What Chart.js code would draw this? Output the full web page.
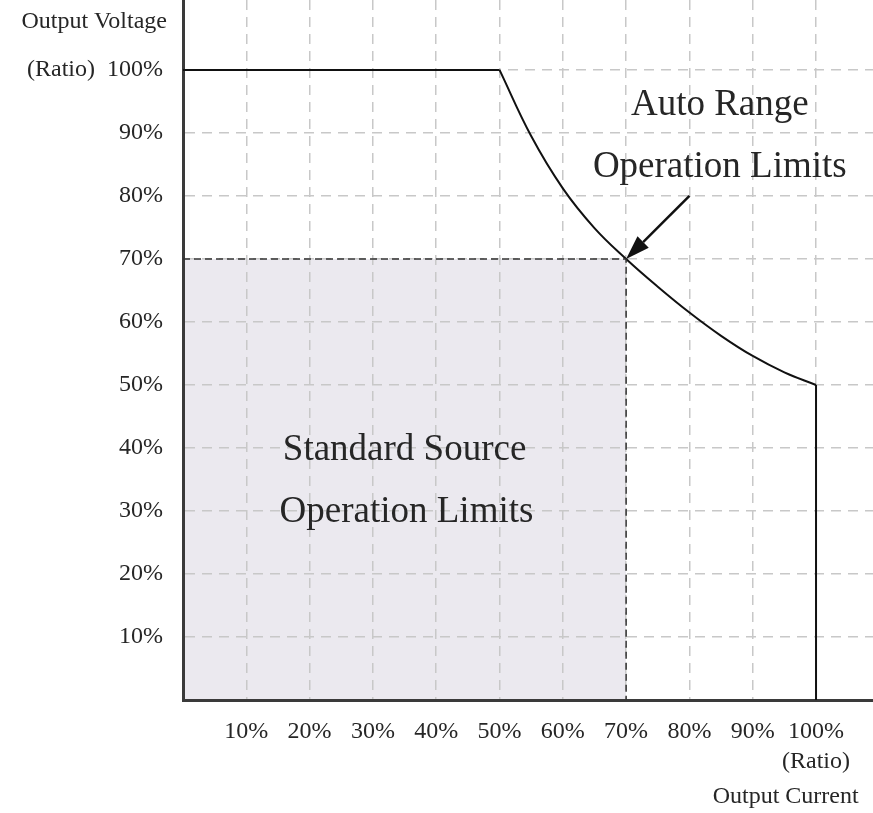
<!DOCTYPE html>
<html>
<head>
<meta charset="utf-8">
<script src="https://cdn.jsdelivr.net/npm/chart.js@4/dist/chart.umd.min.js"></script>
<style>
  html, body { margin: 0; padding: 0; background: #fff; }
  canvas { display: block; }
</style>
</head>
<body>
<canvas id="chart" width="873" height="813"></canvas>
<script>
// ratios in percent
var tickValues = [0, 10, 20, 30, 40, 50, 60, 70, 80, 90, 100];

// auto range limit: flat part, curved part, drop at 100% current
var flatCurrent = [0, 50];
var flatVoltage = [100, 100];
var curveCurrent = [50, 55, 60, 65, 70, 75, 80, 85, 90, 95, 100];
var curveVoltage = [100, 89.5, 81.2, 74.9, 70, 65.6, 61.5, 57.8, 54.6, 52, 50];
var dropCurrent = [100, 100];
var dropVoltage = [50, 0];

// standard source box
var boxCurrent = [0, 70, 70];
var boxVoltage = [70, 70, 0];

function pts(xs, ys) {
  return xs.map(function (v, i) { return { x: v, y: ys[i] }; });
}

var serif = '"Liberation Serif", "DejaVu Serif", serif';
var textCol = '#262626';

var notes = {
  id: 'notes',
  afterDatasetsDraw: function (chart) {
    var c = chart.ctx, x = chart.scales.x, y = chart.scales.y;
    c.save();
    c.fillStyle = textCol;
    c.textAlign = 'center';
    c.textBaseline = 'alphabetic';
    c.font = '37px ' + serif;
    c.fillText('Auto Range', x.getPixelForValue(84.8), 115);
    c.fillText('Operation Limits', x.getPixelForValue(84.8), 177);
    c.fillText('Standard Source', x.getPixelForValue(35), 460);
    c.fillText('Operation Limits', x.getPixelForValue(35.3), 522);

    // arrow to the 70% / 70% point
    var x0 = x.getPixelForValue(80), y0 = y.getPixelForValue(80);
    var x1 = x.getPixelForValue(70), y1 = y.getPixelForValue(70);
    var a = Math.atan2(y1 - y0, x1 - x0);
    var hl = 24, hw = 8;
    c.strokeStyle = '#111';
    c.lineWidth = 2.5;
    c.beginPath();
    c.moveTo(x0, y0);
    c.lineTo(x1 - Math.cos(a) * hl, y1 - Math.sin(a) * hl);
    c.stroke();
    c.fillStyle = '#111';
    c.beginPath();
    c.moveTo(x1, y1);
    c.lineTo(x1 - Math.cos(a) * hl - Math.sin(a) * hw, y1 - Math.sin(a) * hl + Math.cos(a) * hw);
    c.lineTo(x1 - Math.cos(a) * hl + Math.sin(a) * hw, y1 - Math.sin(a) * hl - Math.cos(a) * hw);
    c.closePath();
    c.fill();

    // axis names
    c.fillStyle = textCol;
    c.font = '24px ' + serif;
    c.textBaseline = 'middle';
    c.textAlign = 'right';
    c.fillText('Output Voltage', x.left - 16, 22);
    c.textAlign = 'center';
    c.fillText('Output Current', x.getPixelForValue(95.2), 797);
    c.restore();
  }
};

var gridColor = function (ctx) {
  return ctx.tick && ctx.tick.value === 0 ? 'rgba(0,0,0,0)' : '#c8c8c8';
};

new Chart(document.getElementById('chart'), {
  type: 'scatter',
  data: {
    datasets: [
      {
        data: pts(boxCurrent, boxVoltage),
        showLine: true,
        fill: 'origin',
        backgroundColor: '#ebe9ef',
        borderColor: '#333',
        borderWidth: 1.5,
        borderDash: [7, 4],
        pointRadius: 0
      },
      {
        data: pts(flatCurrent, flatVoltage),
        showLine: true,
        borderColor: '#111',
        borderWidth: 2,
        pointRadius: 0
      },
      {
        data: pts(curveCurrent, curveVoltage),
        showLine: true,
        tension: 0.4,
        borderColor: '#111',
        borderWidth: 2,
        pointRadius: 0
      },
      {
        data: pts(dropCurrent, dropVoltage),
        showLine: true,
        borderColor: '#111',
        borderWidth: 2,
        pointRadius: 0
      }
    ]
  },
  options: {
    responsive: false,
    animation: false,
    layout: { padding: 0 },
    plugins: {
      legend: { display: false },
      tooltip: { enabled: false },
      filler: { drawTime: 'beforeDraw' }
    },
    scales: {
      x: {
        type: 'linear',
        min: 0,
        max: 109,
        afterBuildTicks: function (s) {
          s.ticks = tickValues.map(function (v) { return { value: v }; });
        },
        afterFit: function (s) {
          s.height = 113;
          s.paddingLeft = 0; s.paddingRight = 0;
        },
        grid: { color: gridColor, lineWidth: 1.5, drawTicks: false },
        border: { color: '#3a3a3a', width: 3, dash: [10, 7] },
        ticks: {
          padding: 17,
          maxRotation: 0,
          autoSkip: false,
          color: textCol,
          font: { family: serif, size: 24, lineHeight: 1.25 },
          callback: function (v) {
            if (v === 0) return '';
            if (v === 100) return ['100%', '(Ratio)'];
            return v + '%';
          }
        }
      },
      y: {
        type: 'linear',
        min: 0,
        max: 111.1,
        afterBuildTicks: function (s) {
          s.ticks = tickValues.map(function (v) { return { value: v }; });
        },
        afterFit: function (s) {
          s.width = 183;
          s.paddingTop = 0; s.paddingBottom = 0;
        },
        grid: { color: gridColor, lineWidth: 1.5, drawTicks: false },
        border: { color: '#3a3a3a', width: 3, dash: [10, 7] },
        ticks: {
          padding: 20,
          autoSkip: false,
          color: textCol,
          font: { family: serif, size: 24 },
          callback: function (v) {
            if (v === 0) return '';
            if (v === 100) return '(Ratio)  100%';
            return v + '%';
          }
        }
      }
    }
  },
  plugins: [notes]
});
</script>
</body>
</html>
